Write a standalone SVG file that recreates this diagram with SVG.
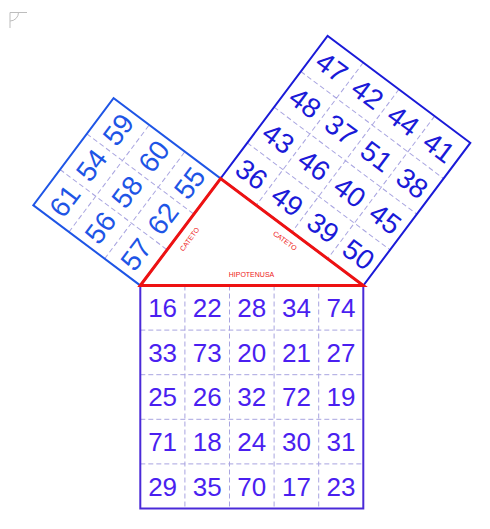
<svg xmlns="http://www.w3.org/2000/svg" width="490" height="529" viewBox="0 0 490 529">
<style>
.dash{stroke:#a8a4e0;stroke-width:1;stroke-dasharray:5,3;fill:none}
.num{font-family:"Liberation Sans",Arial,sans-serif;font-size:28px;text-anchor:middle}
.bottom .num{font-size:26px}
.lbl{font-family:"Liberation Sans",Arial,sans-serif;font-size:7px;fill:#ee2020;text-anchor:middle}
.left text{fill:#1e55e6}
.right text{fill:#1a1ad8}
.bottom text{fill:#4a1ff0}
</style>
<rect width="490" height="529" fill="#ffffff"/>
<g id="corner-mark" fill="none" stroke="#bdbdbd" stroke-width="1">
<path d="M10 12.5 H27 M10 12.5 V28 M18.5 12.5 A8.5 8.5 0 0 1 10 21"/>
</g>
<g id="square-left" class="left" transform="translate(33.3,205.2) rotate(-53.13)">
<path class="dash" d="M44.6 0V133.8M89.2 0V133.8M0 44.6H133.8M0 89.2H133.8"/>
<rect x="0" y="0" width="133.8" height="133.8" fill="none" stroke="#1e55e6" stroke-width="2"/>
<g class="num">
<text x="22.3" y="32.3">61</text><text x="66.9" y="32.3">54</text><text x="111.5" y="32.3">59</text>
<text x="22.3" y="76.9">56</text><text x="66.9" y="76.9">58</text><text x="111.5" y="76.9">60</text>
<text x="22.3" y="121.5">57</text><text x="66.9" y="121.5">62</text><text x="111.5" y="121.5">55</text>
</g>
</g>
<g id="square-right" class="right" transform="translate(327.6,35.8) rotate(36.87)">
<path class="dash" d="M44.6 0V178.4M89.2 0V178.4M133.8 0V178.4M0 44.6H178.4M0 89.2H178.4M0 133.8H178.4"/>
<rect x="0" y="0" width="178.4" height="178.4" fill="none" stroke="#1a1ad8" stroke-width="2"/>
<g class="num">
<text x="22.3" y="32.3">47</text><text x="66.9" y="32.3">42</text><text x="111.5" y="32.3">44</text><text x="156.1" y="32.3">41</text>
<text x="22.3" y="76.9">48</text><text x="66.9" y="76.9">37</text><text x="111.5" y="76.9">51</text><text x="156.1" y="76.9">38</text>
<text x="22.3" y="121.5">43</text><text x="66.9" y="121.5">46</text><text x="111.5" y="121.5">40</text><text x="156.1" y="121.5">45</text>
<text x="22.3" y="166.1">36</text><text x="66.9" y="166.1">49</text><text x="111.5" y="166.1">39</text><text x="156.1" y="166.1">50</text>
</g>
</g>
<g id="square-bottom" class="bottom" transform="translate(140.3,285.5)">
<path class="dash" d="M44.6 0V223M89.2 0V223M133.8 0V223M178.4 0V223M0 44.6H223M0 89.2H223M0 133.8H223M0 178.4H223"/>
<rect x="0" y="0" width="223" height="223" fill="none" stroke="#4a2ad8" stroke-width="2"/>
<g class="num">
<text x="22.3" y="31.6">16</text><text x="66.9" y="31.6">22</text><text x="111.5" y="31.6">28</text><text x="156.1" y="31.6">34</text><text x="200.7" y="31.6">74</text>
<text x="22.3" y="76.2">33</text><text x="66.9" y="76.2">73</text><text x="111.5" y="76.2">20</text><text x="156.1" y="76.2">21</text><text x="200.7" y="76.2">27</text>
<text x="22.3" y="120.8">25</text><text x="66.9" y="120.8">26</text><text x="111.5" y="120.8">32</text><text x="156.1" y="120.8">72</text><text x="200.7" y="120.8">19</text>
<text x="22.3" y="165.4">71</text><text x="66.9" y="165.4">18</text><text x="111.5" y="165.4">24</text><text x="156.1" y="165.4">30</text><text x="200.7" y="165.4">31</text>
<text x="22.3" y="210">29</text><text x="66.9" y="210">35</text><text x="111.5" y="210">70</text><text x="156.1" y="210">17</text><text x="200.7" y="210">23</text>
</g>
</g>
<g id="triangle">
<polygon points="140.3,285.5 220.6,178.5 363.3,285.5" fill="none" stroke="#ee1111" stroke-width="3" stroke-linejoin="miter"/>
<text class="lbl" transform="translate(189.5,239.2) rotate(-53.13)" y="2.5">CATETO</text>
<text class="lbl" transform="translate(285,240.8) rotate(36.87)" y="2.5">CATETO</text>
<text class="lbl" x="251.5" y="276.8">HIPOTENUSA</text>
</g>
</svg>
